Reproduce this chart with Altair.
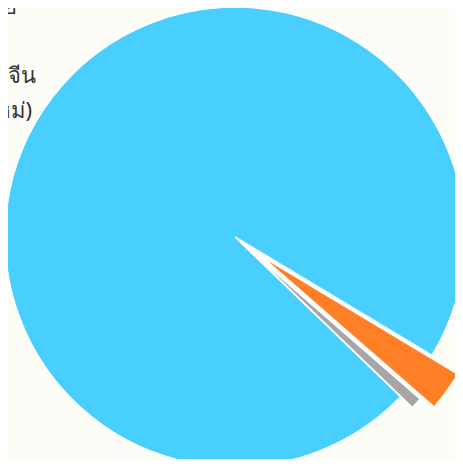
import math
import altair as alt
import pandas as pd

# ---- data ----
categories = ["ทุนจีน (ใหม่)", "ทุนอื่น", "ทุนไทย"]
shares = [2.8, 0.8, 96.4]          # percent of the pie, clockwise order
colors = ["#FF7F27", "#A6A6A6", "#49CFFE"]
explode = [32, 16, 0]              # px the slice is pulled out

legend_lines = ["ไทย", "ทุน", "ทุนจีน", "(ใหม่)"]

W, H = 447, 451
CX, CY = 227, 229
R = 230
START = math.radians(121)

df = pd.DataFrame({
    "cat": categories,
    "value": shares,
    "seq": list(range(len(categories))),
    "off": explode,
})
# draw big slice first
df = df.iloc[::-1].reset_index(drop=True)

TWO_PI = 2 * math.pi

pie = (
    alt.Chart(df)
    .transform_window(cum="sum(value)", sort=[alt.SortField("seq")], frame=[None, 0])
    .transform_joinaggregate(total="sum(value)")
    .transform_calculate(
        t0=f"{START} + {TWO_PI} * (datum.cum - datum.value) / datum.total",
        t1=f"{START} + {TWO_PI} * datum.cum / datum.total",
    )
    .transform_calculate(mid="(datum.t0 + datum.t1) / 2")
    .transform_calculate(
        px=f"{CX} + datum.off * sin(datum.mid)",
        py=f"{CY} - datum.off * cos(datum.mid)",
    )
    .mark_arc(outerRadius=R, stroke="white", strokeWidth=1.5)
    .encode(
        theta=alt.Theta("t0:Q", scale=None),
        theta2="t1:Q",
        x=alt.X("px:Q", scale=None),
        y=alt.Y("py:Q", scale=None),
        color=alt.Color("cat:N", scale=alt.Scale(domain=categories, range=colors), legend=None),
    )
)

leg_df = pd.DataFrame({"label": legend_lines, "i": list(range(len(legend_lines)))})
legend = (
    alt.Chart(leg_df)
    .transform_calculate(ly="-1 + datum.i * 34.5")
    .mark_text(align="left", baseline="middle", fontSize=22, font="Noto Sans", color="#333333")
    .encode(
        text="label:N",
        x=alt.value(-30),
        y=alt.Y("ly:Q", scale=None),
    )
)

chart = (
    alt.layer(pie, legend)
    .properties(width=W, height=H, background="#FDFDF8", padding=0,
                autosize=alt.AutoSizeParams(type="none"))
    .configure_view(stroke=None)
)

chart.save("out.html", embed_options={"renderer": "svg", "actions": False})
